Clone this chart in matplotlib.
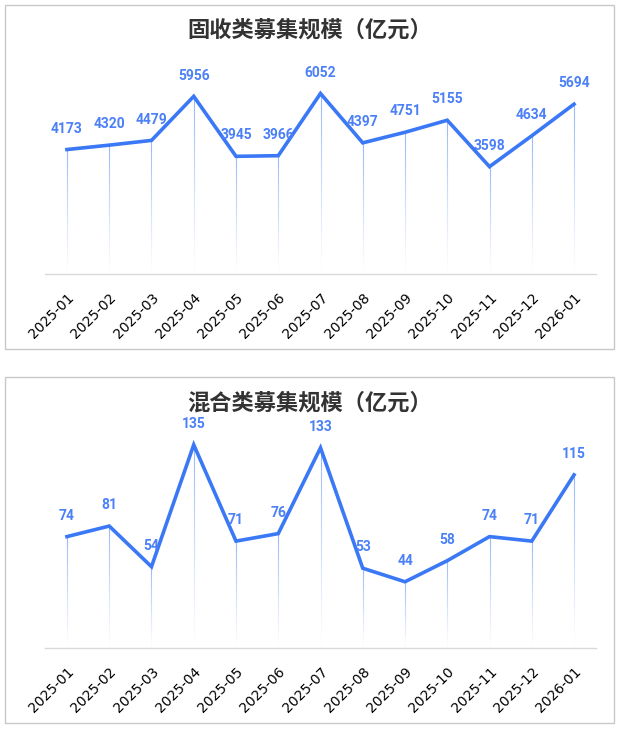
import numpy as np
import matplotlib.pyplot as plt
from matplotlib.collections import LineCollection
from matplotlib.patches import Rectangle

plt.rcParams['font.family'] = ['Noto Sans CJK SC', 'DejaVu Sans']

months = ['2025-01', '2025-02', '2025-03', '2025-04', '2025-05', '2025-06', '2025-07',
          '2025-08', '2025-09', '2025-10', '2025-11', '2025-12', '2026-01']
fixed_income = [4173, 4320, 4479, 5956, 3945, 3966, 6052, 4397, 4751, 5155, 3598, 4634, 5694]
mixed = [74, 81, 54, 135, 71, 76, 133, 53, 44, 58, 74, 71, 115]

LINE = '#3a78f6'
LABEL = '#4b80f7'

fig = plt.figure(figsize=(6.2, 7.3), dpi=100)

# panel frames (pixel coords -> figure fraction)
def px_rect(x0, y0, x1, y1):
    return Rectangle((x0 / 620, 1 - y1 / 730), (x1 - x0) / 620, (y1 - y0) / 730,
                     transform=fig.transFigure, fill=False, edgecolor='#c8c8c8', lw=1)

fig.patches.append(px_rect(5, 5, 614, 349))
fig.patches.append(px_rect(5, 377, 614, 723))


def draw_panel(ax, values, ymax, title, title_y):
    x = np.arange(len(values))
    vals = np.array(values, dtype=float)

    # fading drop lines
    n = 60
    segs, cols = [], []
    for xi, v in zip(x, vals):
        ys = np.linspace(v, 0, n + 1)
        for k in range(n):
            segs.append([(xi, ys[k]), (xi, ys[k + 1])])
            a = 0.55 * (1 - k / n) ** 1.2
            cols.append((0.23, 0.47, 0.96, a))
    ax.add_collection(LineCollection(segs, colors=cols, linewidths=0.8, zorder=1))

    ax.plot(x, vals, color=LINE, lw=2.6, zorder=3, solid_joinstyle='miter')
    for xi, v in zip(x, vals):
        ax.annotate(f'{v:.0f}', (xi, v), xytext=(0, 15), textcoords='offset points',
                    ha='center', va='center', fontsize=10, fontweight='bold',
                    color=LABEL, family=['Roboto', 'DejaVu Sans'], zorder=4)

    ax.set_xlim(-0.52, len(values) - 1 + 0.52)
    ax.set_ylim(0, ymax)
    for s in ['top', 'right', 'left']:
        ax.spines[s].set_visible(False)
    ax.spines['bottom'].set_color('#d9d9d9')
    ax.spines['bottom'].set_linewidth(1)
    ax.set_yticks([])
    ax.set_xticks(x)
    ax.set_xticklabels(months, rotation=45, ha='right', rotation_mode='anchor',
                       fontsize=10, family='DejaVu Sans')
    ax.tick_params(axis='x', length=0, pad=12)
    ax.patch.set_alpha(0)
    fig.text(0.5, title_y, title, ha='center', va='center', fontsize=16,
             fontweight='bold', color='#333333')


ax1 = fig.add_axes([45 / 620, (730 - 274) / 730, 551 / 620, 208.8 / 730])
draw_panel(ax1, fixed_income, 7000, '固收类募集规模（亿元）', 1 - 30 / 730)

ax2 = fig.add_axes([45 / 620, (730 - 648) / 730, 551 / 620, 225.8 / 730])
draw_panel(ax2, mixed, 150, '混合类募集规模（亿元）', 1 - 403 / 730)

fig.savefig('out.png', dpi=100)
